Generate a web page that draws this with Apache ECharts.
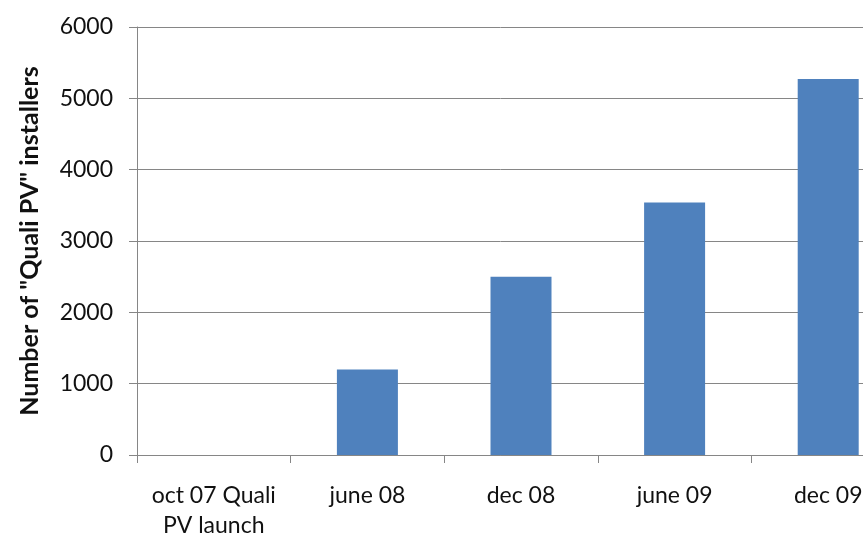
<!DOCTYPE html>
<html><head><meta charset="utf-8">
<script src="https://cdn.jsdelivr.net/npm/echarts@6/dist/echarts.min.js"></script>
<style>html,body{margin:0;padding:0;background:#fff}#c{width:863px;height:538px}</style>
</head><body><div id="c"></div>
<script>
const categories = ["oct 07 Quali\nPV launch", "june 08", "dec 08", "june 09", "dec 09"];
const installers = [0, 1200, 2500, 3540, 5270];
const yTicks = {min: 0, max: 6000, interval: 1000};
const yTitle = 'Number of "Quali PV" installers';

const chart = echarts.init(document.getElementById('c'), null, {renderer: 'canvas'});
const font = 'Lato';
chart.setOption({
  animation: false,
  grid: {left: 137, width: 768, top: 27, height: 428, containLabel: false, outerBoundsMode: 'none'},
  xAxis: {
    type: 'category', data: categories,
    axisLine: {lineStyle: {color: '#868686', width: 1}},
    axisTick: {show: true, length: 8, lineStyle: {color: '#868686'}},
    axisLabel: {interval: 0, color: '#111', fontFamily: font, fontSize: 23, margin: 26, lineHeight: 30}
  },
  yAxis: {
    type: 'value', min: yTicks.min, max: yTicks.max, interval: yTicks.interval,
    name: yTitle, nameLocation: 'middle', nameGap: 95,
    nameTextStyle: {color: '#111', fontFamily: font, fontSize: 25, fontWeight: 'bold'},
    axisLine: {show: true, lineStyle: {color: '#868686'}},
    axisTick: {show: true, length: 8, lineStyle: {color: '#868686'}},
    axisLabel: {color: '#111', fontFamily: font, fontSize: 23, margin: 24, formatter: v => String(v)},
    splitLine: {show: true, lineStyle: {color: '#868686', width: 1}}
  },
  series: [{
    type: 'bar', data: installers, barWidth: 61,
    itemStyle: {color: '#4F81BD'}
  }]
});
</script></body></html>
